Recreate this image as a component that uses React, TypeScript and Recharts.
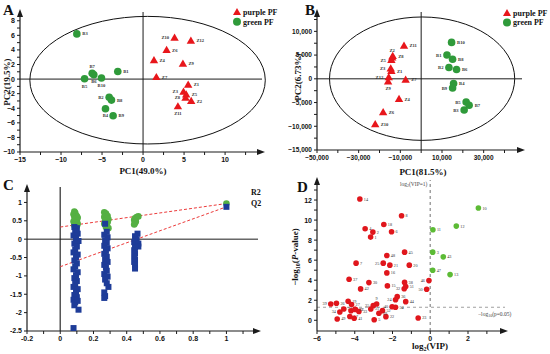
import React from 'react';
import { ScatterChart, Scatter, XAxis, YAxis, ReferenceLine, ReferenceArea, ReferenceDot } from 'recharts';

// ---------------- Panel A (PCA) ----------------
const aPurpleNames = ['Z1', 'Z2', 'Z3', 'Z4', 'Z5', 'Z6', 'Z7', 'Z8', 'Z9', 'Z10', 'Z11', 'Z12'];
const aPurplePC1 = [5.5, 5.87, 4.93, 1.33, 5.26, 2.87, 1.62, 5.18, 4.86, 3.84, 4.25, 5.83];
const aPurplePC2 = [-0.78, -3.0, -1.74, 2.6, -2.1, 4.0, 0.27, -2.56, 2.1, 5.66, -3.74, 5.25];
const aGreenNames = ['B1', 'B2', 'B3', 'B4', 'B5', 'B6', 'B7', 'B8', 'B9', 'B10'];
const aGreenPC1 = [-3.08, -4.13, -8.07, -4.58, -7.13, -6.0, -6.2, -3.85, -3.65, -5.07];
const aGreenPC2 = [1.05, -2.5, 6.2, -4.07, 0.04, 0.6, 0.8, -2.88, -5.03, 0.14];
const aXTicks = [-15, -12.5, -10, -7.5, -5, -2.5, 0, 2.5, 5, 7.5, 10, 12.5];
const aYTicks = [-10, -9, -8, -7, -6, -5, -4, -3, -2, -1, 0, 1, 2, 3, 4, 5, 6, 7, 8];

// ---------------- Panel B (PCA) ----------------
const bPurpleNames = ['Z1', 'Z2', 'Z3', 'Z4', 'Z5', 'Z6', 'Z7', 'Z8', 'Z9', 'Z10', 'Z11', 'Z12'];
const bPurplePC1 = [-14300, -13900, -14600, -10630, -14290, -18250, -7460, -13650, -15870, -22060, -8240, -15560];
const bPurplePC2 = [1670, 4500, 2160, -4250, 3970, -7040, -210, 4810, -560, -9550, 6970, 350];
const bGreenNames = ['B1', 'B2', 'B3', 'B4', 'B5', 'B6', 'B7', 'B8', 'B9', 'B10'];
const bGreenPC1 = [12380, 13330, 20630, 15560, 21590, 16980, 23020, 15080, 15080, 14600];
const bGreenPC2 = [5020, 2370, -6560, -980, -4880, 1950, -5580, 4110, -1950, 7670];
const bXTicks = [-50000, -40000, -30000, -20000, -10000, 0, 10000, 20000, 30000, 40000];
const bYTicks = [-15000, -12500, -10000, -7500, -5000, -2500, 0, 2500, 5000, 7500, 10000, 12500];

// ---------------- Panel C (permutation test) ----------------
const cR2: [number, number][] = [
  [0.085, 0.75], [0.09, 0.72], [0.08, 0.68], [0.095, 0.65], [0.1, 0.62], [0.085, 0.6], [0.105, 0.58],
  [0.09, 0.55], [0.1, 0.5], [0.08, 0.48], [0.095, 0.45], [0.105, 0.42], [0.085, 0.38], [0.1, 0.35], [0.09, 0.32],
  [0.265, 0.73], [0.275, 0.7], [0.27, 0.66], [0.285, 0.63], [0.265, 0.6], [0.28, 0.57], [0.29, 0.54],
  [0.27, 0.5], [0.285, 0.46], [0.265, 0.42], [0.28, 0.38], [0.275, 0.33], [0.29, 0.3],
  [0.46, 0.6], [0.45, 0.57], [0.47, 0.62], [0.445, 0.52], [0.455, 0.48], [0.45, 0.44], [0.445, 0.4],
  [1, 0.97],
];
const cQ2: [number, number][] = [
  [0.085, 0.33], [0.1, 0.3], [0.09, 0.22], [0.105, 0.15], [0.08, 0.1], [0.095, 0.02], [0.11, -0.05],
  [0.085, -0.12], [0.1, -0.2], [0.09, -0.28], [0.08, -0.36], [0.105, -0.42], [0.095, -0.5], [0.085, -0.58],
  [0.1, -0.66], [0.09, -0.74], [0.08, -0.82], [0.105, -0.9], [0.095, -0.98], [0.085, -1.06], [0.1, -1.14],
  [0.09, -1.22], [0.08, -1.3], [0.105, -1.36], [0.095, -1.44], [0.085, -1.52], [0.1, -1.58], [0.08, -1.65],
  [0.09, -1.72], [0.105, -1.68], [0.085, -1.8], [0.11, -1.92], [0.08, -2.42],
  [0.27, 0.42], [0.28, 0.2], [0.265, 0.12], [0.285, 0.05], [0.27, -0.03], [0.28, -0.1], [0.265, -0.18],
  [0.285, -0.25], [0.275, -0.32], [0.265, -0.4], [0.28, -0.48], [0.27, -0.55], [0.285, -0.62], [0.265, -0.7],
  [0.275, -0.78], [0.28, -0.86], [0.265, -0.95], [0.285, -1.02], [0.27, -1.1], [0.28, -1.2], [0.29, -1.3],
  [0.265, -1.45], [0.27, -1.55], [0.265, -1.6],
  [0.465, 0.15], [0.45, 0.08], [0.46, 0.0], [0.445, -0.08], [0.47, -0.12], [0.47, -0.2], [0.45, -0.22],
  [0.445, -0.3], [0.45, -0.38], [0.445, -0.46], [0.45, -0.55], [0.445, -0.62], [0.45, -0.7], [0.45, -0.8],
  [1, 0.88],
];
const cR2Line = [[0, 0.33], [1, 0.97]];
const cQ2Line = [[0, -0.75], [1, 0.88]];
const cXTicks = [-0.2, -0.1, 0, 0.1, 0.2, 0.3, 0.4, 0.5, 0.6, 0.7, 0.8, 0.9, 1, 1.1];
const cYTicks = [-2.5, -2, -1.5, -1, -0.5, 0, 0.5, 1];

// ---------------- Panel D (volcano-like) ----------------
const dRedNames = ['14', '8', '18', '4', '2', '6', '1', '45', '48', '7', '25', '21', '20', '16', '37', '30', '38', '51', '32', '15', '42', '46', '50', '36', '24', '44', '40', '54', '52', '22', '23', '5', '9', '35', '31', '29', '39', '26', '34', '53', '19', '27', '17', '57', '41', '28', '33', '55', '49'];
const dRedX = [-3.73, -1.52, -2.46, -3.45, -3.04, -2.05, -3.16, -1.36, -2.3, -3.93, -2.49, -2.14, -1.11, -2.3, -4.3, -3.25, -1.36, -1.3, -1.38, -2.27, -3.69, -0.07, -0.19, -1.75, -1.84, -1.3, -2.02, -1.84, -2.53, -2.35, -0.64, -2.97, -2.84, -3.02, -3.15, -2.72, -5.27, -4.97, -4.79, -4.58, -4.35, -4.17, -3.96, -4.26, -4.03, -4.2, -3.78, -3.99, -4.93];
const dRedY = [12.1, 10.43, 9.56, 9.13, 8.8, 8.83, 8.3, 6.8, 6.46, 5.7, 5.7, 5.5, 5.5, 4.73, 4.1, 3.76, 3.78, 3.36, 3.15, 3.43, 3.13, 3.96, 3.1, 2.36, 2.05, 1.86, 1.35, 1.3, 0.96, 0.36, 0.23, 0.06, 1.63, 1.46, 1.13, 0.7, 1.63, 1.7, 0.83, 1.13, 1.9, 1.57, 1.07, 0.37, 0.2, 0.95, 0.87, 1.1, 0.13];
const dGreenNames = ['10', '12', '11', '3', '43', '47', '13'];
const dGreenX = [2.55, 1.38, 0.14, 0.13, 0.69, 0.13, 1.05];
const dGreenY = [11.2, 9.4, 9.03, 6.8, 6.33, 5.0, 4.56];
const dXTicks = [-6, -5, -4, -3, -2, -1, 0, 1, 2, 3];
const dYTicks = [0, 1, 2, 3, 4, 5, 6, 7, 8, 9, 10, 11, 12, 13];

// ---------------- styling ----------------
const SERIF = "'Liberation Serif','Times New Roman',serif";
const SANS = "'Liberation Sans',Arial,sans-serif";
const AX = '#1b1b1b';
const RED = '#e8161b';
const GREEN_AB = '#2f9a3a';
const GREEN_C = '#55b043';
const BLUE_C = '#1e3c98';
const GREEN_D = '#5cbb35';
const RED_D = '#e0161c';

const labelSideA: Record<string, string> = {
  B3: 'r', B1: 'r', B7: 't', B6: 'b', B5: 'b', B10: 'b', B2: 'l', B8: 'r', B4: 'b', B9: 'r',
  Z10: 'l', Z12: 'r', Z6: 'r', Z4: 'r', Z9: 'r', Z7: 'r', Z1: 'r', Z3: 'l', Z5: 'r', Z8: 'l', Z2: 'r', Z11: 'b',
};
const labelSideB: Record<string, string> = {
  Z11: 'r', Z2: 't', Z8: 'r', Z5: 'l', Z3: 'l', Z1: 'r', Z12: 'l', Z9: 'b', Z7: 'r', Z4: 'r', Z6: 'r', Z10: 'r',
  B10: 'r', B1: 'l', B8: 'r', B2: 'l', B6: 'r', B4: 'r', B9: 'l', B5: 'l', B7: 'r', B3: 'l',
};
const labelSideD: Record<string, string> = {
  '25': 'l', '46': 'l', '50': 'l', '39': 'l', '34': 'l', '24': 'l', '40': 'l', '32': 'l', '9': 't', '35': 'l',
};

const zip = (names: string[], xs: number[], ys: number[]) => names.map((n, i) => ({ name: n, x: xs[i], y: ys[i] }));
const pairs = (arr: number[][]) => arr.map(([x, y]) => ({ x, y }));

const aPurple = zip(aPurpleNames, aPurplePC1, aPurplePC2);
const aGreen = zip(aGreenNames, aGreenPC1, aGreenPC2);
const bPurple = zip(bPurpleNames, bPurplePC1, bPurplePC2);
const bGreen = zip(bGreenNames, bGreenPC1, bGreenPC2);
const cR2Data = pairs(cR2);
const cQ2Data = pairs(cQ2);
const dRed = zip(dRedNames, dRedX, dRedY);
const dGreen = zip(dGreenNames, dGreenX, dGreenY);

const minus = (s: string) => s.replace('-', '\u2212');

function ptLabel(cx: number, cy: number, name: string, side: string, fs: number, dist: number, bold: boolean) {
  let x = cx + dist;
  let y = cy + fs * 0.35;
  let anchor: 'start' | 'end' | 'middle' = 'start';
  if (side === 'l') { x = cx - dist; anchor = 'end'; }
  else if (side === 't') { x = cx; y = cy - dist; anchor = 'middle'; }
  else if (side === 'b') { x = cx; y = cy + dist + fs * 0.7; anchor = 'middle'; }
  return (
    <text x={x} y={y} textAnchor={anchor} fontSize={fs} fontFamily={SERIF} fontWeight={bold ? 700 : 400} fill="#333">
      {name}
    </text>
  );
}

const getName = (p: any) => (p.payload && p.payload.name) || p.name || '';

const triangleShape = (sides: Record<string, string>) => (p: any) => {
  const { cx, cy } = p;
  const n = getName(p);
  return (
    <g>
      <polygon points={`${cx},${cy - 4.2} ${cx - 4.2},${cy + 3} ${cx + 4.2},${cy + 3}`} fill={RED} />
      {ptLabel(cx, cy, n, sides[n] || 'r', 4.6, 5.5, true)}
    </g>
  );
};
const circleShape = (sides: Record<string, string>, color: string) => (p: any) => {
  const { cx, cy } = p;
  const n = getName(p);
  return (
    <g>
      <circle cx={cx} cy={cy} r={3.8} fill={color} />
      {ptLabel(cx, cy, n, sides[n] || 'r', 4.6, 5.5, true)}
    </g>
  );
};
const dDot = (color: string) => (p: any) => {
  const { cx, cy } = p;
  const n = getName(p);
  return (
    <g>
      <circle cx={cx} cy={cy} r={2.8} fill={color} />
      {ptLabel(cx, cy, n, labelSideD[n] || 'r', 4.2, 4, false)}
    </g>
  );
};
const squareShape = (p: any) => <rect x={p.cx - 3} y={p.cy - 3} width={6} height={6} fill={BLUE_C} />;
const greenDotC = (p: any) => <circle cx={p.cx} cy={p.cy} r={3.3} fill={GREEN_C} />;

const ellipseShape = (p: any) => (
  <ellipse cx={p.x + p.width / 2} cy={p.y + p.height / 2} rx={Math.abs(p.width) / 2} ry={Math.abs(p.height) / 2}
    fill="none" stroke="#111" strokeWidth={1} />
);
const arrowUp = (p: any) => <polygon points={`${p.cx},${p.cy - 3} ${p.cx - 3},${p.cy + 5} ${p.cx + 3},${p.cy + 5}`} fill={AX} />;
const arrowRight = (p: any) => <polygon points={`${p.cx + 3},${p.cy} ${p.cx - 5},${p.cy - 3} ${p.cx - 5},${p.cy + 3}`} fill={AX} />;

const tickStyle = (fs: number) => ({ fontSize: fs, fontFamily: SANS, fontWeight: 700, fill: '#111' });
const axisLine = { stroke: AX, strokeWidth: 1.2 };
const tickLine = { stroke: AX, strokeWidth: 1 };

export default function App() {
  return (
    <div style={{ position: 'absolute', left: 0, top: 0, width: 550, height: 354, background: '#fff', overflow: 'hidden' }}>
      {/* Panel A */}
      <div style={{ position: 'absolute', left: 0, top: 0 }}>
        <ScatterChart width={275} height={177} margin={{ top: 12, right: 13, bottom: 0, left: 0 }}>
          <XAxis type="number" dataKey="x" domain={[-15, 14.5]} ticks={aXTicks} interval={0} allowDataOverflow
            tickFormatter={(v: number) => (v % 5 === 0 ? minus(String(v)) : '')} height={25}
            axisLine={axisLine} tickLine={tickLine} tickSize={3} tick={tickStyle(7)} />
          <YAxis type="number" dataKey="y" domain={[-10, 9.2]} ticks={aYTicks} interval={0} allowDataOverflow
            tickFormatter={(v: number) => (v % 2 === 0 ? minus(String(v)) : '')} width={20}
            axisLine={axisLine} tickLine={tickLine} tickSize={3} tick={tickStyle(7)} />
          <ReferenceArea x1={-13.8} x2={14.9} y1={-8.9} y2={8.6} ifOverflow="visible" shape={ellipseShape} />
          <ReferenceLine x={0} stroke={AX} strokeWidth={1} />
          <ReferenceLine y={0} stroke={AX} strokeWidth={1} />
          <Scatter data={aGreen} shape={circleShape(labelSideA, GREEN_AB)} isAnimationActive={false} />
          <Scatter data={aPurple} shape={triangleShape(labelSideA)} isAnimationActive={false} />
          <ReferenceDot x={-15} y={9.2} r={3} ifOverflow="visible" shape={arrowUp} />
          <ReferenceDot x={14.5} y={-10} r={3} ifOverflow="visible" shape={arrowRight} />
        </ScatterChart>
      </div>

      {/* Panel B */}
      <div style={{ position: 'absolute', left: 275, top: 0 }}>
        <ScatterChart width={275} height={177} margin={{ top: 12, right: 28, bottom: 0, left: 0 }}>
          <XAxis type="number" dataKey="x" domain={[-50000, 48400]} ticks={bXTicks} interval={0} allowDataOverflow
            tickFormatter={(v: number) => (Math.abs(v / 10000) % 2 === 1 ? minus(v.toLocaleString('en-US')) : '')} height={27}
            axisLine={axisLine} tickLine={tickLine} tickSize={3} tick={tickStyle(6.5)} />
          <YAxis type="number" dataKey="y" domain={[-15000, 14080]} ticks={bYTicks} interval={0} allowDataOverflow
            tickFormatter={(v: number) => (v % 5000 === 0 ? minus(v.toLocaleString('en-US')) : '')} width={42}
            axisLine={axisLine} tickLine={tickLine} tickSize={3} tick={tickStyle(6.5)} />
          <ReferenceArea x1={-44000} x2={44900} y1={-12970} y2={13030} ifOverflow="visible" shape={ellipseShape} />
          <ReferenceLine x={0} stroke={AX} strokeWidth={1} />
          <ReferenceLine y={0} stroke={AX} strokeWidth={1} />
          <Scatter data={bGreen} shape={circleShape(labelSideB, GREEN_AB)} isAnimationActive={false} />
          <Scatter data={bPurple} shape={triangleShape(labelSideB)} isAnimationActive={false} />
          <ReferenceDot x={-50000} y={14080} r={3} ifOverflow="visible" shape={arrowUp} />
          <ReferenceDot x={48400} y={-15000} r={3} ifOverflow="visible" shape={arrowRight} />
        </ScatterChart>
      </div>

      {/* Panel C */}
      <div style={{ position: 'absolute', left: 0, top: 177 }}>
        <ScatterChart width={275} height={177} margin={{ top: 10, right: 17, bottom: 0, left: 0 }}>
          <XAxis type="number" dataKey="x" domain={[-0.2, 1.19]} ticks={cXTicks} interval={0} allowDataOverflow
            tickFormatter={(v: number) => (Math.round(v * 10) % 2 === 0 ? String(Math.round(v * 10) / 10) : '')} height={23}
            axisLine={axisLine} tickLine={tickLine} tickSize={3} tick={tickStyle(7)} />
          <YAxis type="number" dataKey="y" domain={[-2.5, 1.42]} ticks={cYTicks} interval={0} allowDataOverflow
            tickFormatter={(v: number) => String(v)} width={27}
            axisLine={axisLine} tickLine={tickLine} tickSize={3} tick={tickStyle(7)} />
          <ReferenceLine x={0} stroke="#555" strokeWidth={1.5} />
          <ReferenceLine y={0} stroke={AX} strokeWidth={1} />
          <Scatter data={cR2Data} shape={greenDotC} isAnimationActive={false} />
          <Scatter data={cQ2Data} shape={squareShape} isAnimationActive={false} />
          <ReferenceLine segment={[{ x: cR2Line[0][0], y: cR2Line[0][1] }, { x: cR2Line[1][0], y: cR2Line[1][1] }]}
            stroke="#ec3a3a" strokeDasharray="3 2" strokeWidth={1} />
          <ReferenceLine segment={[{ x: cQ2Line[0][0], y: cQ2Line[0][1] }, { x: cQ2Line[1][0], y: cQ2Line[1][1] }]}
            stroke="#ec3a3a" strokeDasharray="3 2" strokeWidth={1} />
          <ReferenceDot x={-0.2} y={1.42} r={3} ifOverflow="visible" shape={arrowUp} />
          <ReferenceDot x={1.19} y={-2.5} r={3} ifOverflow="visible" shape={arrowRight} />
        </ScatterChart>
      </div>

      {/* Panel D */}
      <div style={{ position: 'absolute', left: 275, top: 177 }}>
        <ScatterChart width={275} height={177} margin={{ top: 3, right: 45, bottom: 0, left: 0 }}>
          <XAxis type="number" dataKey="x" domain={[-6, 3.96]} ticks={dXTicks} interval={0} allowDataOverflow
            tickFormatter={(v: number) => (v % 2 === 0 ? minus(String(v)) : '')} height={23}
            axisLine={axisLine} tickLine={tickLine} tickSize={3} tick={tickStyle(7)} />
          <YAxis type="number" dataKey="y" domain={[-1.07, 14]} ticks={dYTicks} interval={0} allowDataOverflow
            tickFormatter={(v: number) => (v % 2 === 0 ? String(v) : '')} width={42}
            axisLine={axisLine} tickLine={tickLine} tickSize={3} tick={tickStyle(7)} />
          <ReferenceLine x={0} stroke="#a0a0a0" strokeWidth={1.5} strokeDasharray="3 3" />
          <ReferenceLine y={1.3} stroke="#a0a0a0" strokeWidth={1.2} strokeDasharray="3 3" />
          <Scatter data={dRed} shape={dDot(RED_D)} isAnimationActive={false} />
          <Scatter data={dGreen} shape={dDot(GREEN_D)} isAnimationActive={false} />
          <ReferenceDot x={-6} y={14} r={3} ifOverflow="visible" shape={arrowUp} />
          <ReferenceDot x={3.96} y={-1.07} r={3} ifOverflow="visible" shape={arrowRight} />
        </ScatterChart>
      </div>

      {/* Text overlay */}
      <svg width={550} height={354} style={{ position: 'absolute', left: 0, top: 0, pointerEvents: 'none' }}>
        <g fontFamily={SERIF} fontWeight={700} fill="#111">
          <text x={3} y={15} fontSize={15}>A</text>
          <text x={305} y={15} fontSize={15}>B</text>
          <text x={3} y={190} fontSize={15}>C</text>
          <text x={297} y={192} fontSize={15}>D</text>

          {/* legend A */}
          <polygon points="237,8 233,15 241,15" fill={RED} />
          <text x={243} y={15} fontSize={8}>purple PF</text>
          <circle cx={237} cy={21.7} r={4} fill={GREEN_AB} />
          <text x={243} y={24.5} fontSize={8}>green PF</text>

          {/* legend B */}
          <polygon points="507,9 503,16 511,16" fill={RED} />
          <text x={513} y={16} fontSize={8}>purple PF</text>
          <circle cx={507} cy={22.5} r={4} fill={GREEN_AB} />
          <text x={513} y={25.3} fontSize={8}>green PF</text>

          {/* axis titles */}
          <text x={143} y={174} fontSize={9} textAnchor="middle">PC1(49.0%)</text>
          <text transform="translate(10,82) rotate(-90)" fontSize={9} textAnchor="middle">PC2(19.5%)</text>
          <text x={423} y={175} fontSize={9} textAnchor="middle">PC1(81.5%)</text>
          <text transform="translate(301,77) rotate(-90)" fontSize={9} textAnchor="middle">PC2(6.73%)</text>

          <text x={251} y={195} fontSize={8}>R2</text>
          <text x={251} y={206} fontSize={8}>Q2</text>

          <text x={430} y={349} fontSize={9} textAnchor="middle">
            log<tspan fontSize={6} dy={2}>2</tspan><tspan dy={-2}>(VIP)</tspan>
          </text>
          <text transform="translate(298,257) rotate(-90)" fontSize={9} textAnchor="middle">
            {'\u2212log'}<tspan fontSize={6} dy={2}>10</tspan><tspan dy={-2}>(</tspan><tspan fontStyle="italic">P</tspan><tspan>-value)</tspan>
          </text>
        </g>
        <g fontFamily={SERIF} fill="#444">
          <text x={400} y={186} fontSize={5.5}>
            log<tspan fontSize={4} dy={1}>2</tspan><tspan dy={-1}>(VIP=1)</tspan>
          </text>
          <text x={478} y={316} fontSize={5.5}>
            {'\u2212log'}<tspan fontSize={4} dy={1}>10</tspan><tspan dy={-1}>(p=0.05)</tspan>
          </text>
        </g>
      </svg>
    </div>
  );
}
